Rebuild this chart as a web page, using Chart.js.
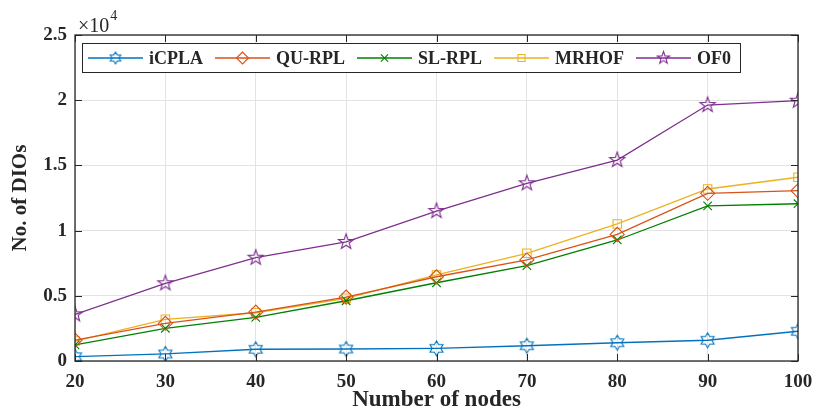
<!DOCTYPE html>
<html>
<head>
<meta charset="utf-8">
<script src="https://cdn.jsdelivr.net/npm/chart.js@4.4.1/dist/chart.umd.min.js"></script>
<style>
  html, body { margin: 0; padding: 0; background: #fff; }
  #wrap { width: 813px; height: 412px; position: relative; }
</style>
</head>
<body>
<div id="wrap"><canvas id="chart" width="813" height="412"></canvas></div>
<script>
const nodes = [20, 30, 40, 50, 60, 70, 80, 90, 100];
const seriesNames = ['iCPLA', 'QU-RPL', 'SL-RPL', 'MRHOF', 'OF0'];
const icpla = [330, 540, 900, 920, 970, 1170, 1400, 1590, 2280];
const quRpl = [1600, 2890, 3750, 4900, 6460, 7750, 9710, 12860, 13060];
const slRpl = [1230, 2510, 3350, 4620, 6000, 7310, 9280, 11890, 12060];
const mrhof = [1530, 3200, 3700, 4810, 6600, 8260, 10510, 13190, 14090];
const of0 = [3580, 5960, 7920, 9130, 11500, 13630, 15410, 19630, 19960];
const yTicks = [0, 5000, 10000, 15000, 20000, 25000];

const FONT = '"Liberation Serif", "Times New Roman", serif';

// star shaped marker drawn on a small canvas
function starMarker(points, inner, color, r) {
  const c = document.createElement('canvas');
  const size = Math.ceil(r * 2 + 4);
  c.width = size;
  c.height = size;
  const ctx = c.getContext('2d');
  const cx = size / 2, cy = size / 2;
  ctx.beginPath();
  for (let i = 0; i < points * 2; i++) {
    const rad = i % 2 === 0 ? r : r * inner;
    const a = -Math.PI / 2 + i * Math.PI / points;
    const x = cx + rad * Math.cos(a);
    const y = cy + rad * Math.sin(a);
    if (i === 0) ctx.moveTo(x, y); else ctx.lineTo(x, y);
  }
  ctx.closePath();
  ctx.strokeStyle = color;
  ctx.lineWidth = 1.1;
  ctx.stroke();
  return c;
}

const colors = ['#0072BD', '#D95319', '#008000', '#EDB120', '#7E2F8E'];

function makeSet(label, data, color, style, radius, legendStyle, legendRadius) {
  return {
    label,
    data: nodes.map((n, i) => ({ x: n, y: data[i] })),
    borderColor: color,
    backgroundColor: 'rgba(0,0,0,0)',
    borderWidth: 1.3,
    pointStyle: style,
    pointRadius: radius,
    pointBorderWidth: 1.1,
    pointBorderColor: color,
    pointBackgroundColor: 'rgba(0,0,0,0)',
    tension: 0,
    legendStyle,
    legendRadius,
  };
}

const datasets = [
  makeSet(seriesNames[0], icpla, colors[0], starMarker(6, 0.577, colors[0], 7.5), 7,
    starMarker(6, 0.577, colors[0], 6), 6),
  makeSet(seriesNames[1], quRpl, colors[1], 'rectRot', 7, 'rectRot', 6),
  makeSet(seriesNames[2], slRpl, colors[2], 'crossRot', 6, 'crossRot', 5),
  makeSet(seriesNames[3], mrhof, colors[3], 'rect', 6, 'rect', 5),
  makeSet(seriesNames[4], of0, colors[4], starMarker(5, 0.4, colors[4], 8), 8,
    starMarker(5, 0.4, colors[4], 6.5), 6),
];

const frame = {
  id: 'frame',
  afterDraw(chart) {
    const { ctx, chartArea: a, scales } = chart;
    ctx.save();
    // box
    ctx.strokeStyle = '#262626';
    ctx.lineWidth = 1.3;
    ctx.strokeRect(a.left, a.top, a.right - a.left, a.bottom - a.top);
    // inward ticks
    ctx.beginPath();
    nodes.forEach(v => {
      const x = Math.round(scales.x.getPixelForValue(v)) + 0.5;
      ctx.moveTo(x, a.bottom); ctx.lineTo(x, a.bottom - 7);
      ctx.moveTo(x, a.top); ctx.lineTo(x, a.top + 7);
    });
    yTicks.forEach(v => {
      const y = Math.round(scales.y.getPixelForValue(v)) + 0.5;
      ctx.moveTo(a.left, y); ctx.lineTo(a.left + 7, y);
      ctx.moveTo(a.right, y); ctx.lineTo(a.right - 7, y);
    });
    ctx.lineWidth = 1;
    ctx.stroke();

    // exponent label
    ctx.fillStyle = '#262626';
    ctx.textBaseline = 'alphabetic';
    ctx.textAlign = 'left';
    ctx.font = '20px ' + FONT;
    ctx.fillText('\u00d710', a.left + 3, a.top - 3);
    const w = ctx.measureText('\u00d710').width;
    ctx.font = '14px ' + FONT;
    ctx.fillText('4', a.left + 4 + w, a.top - 15);

    // legend
    const lx = a.left + 7, ly = a.top + 8, lh = 29;
    ctx.font = 'bold 18px ' + FONT;
    const lineLen = 55;
    let x = lx + 6;
    const items = [];
    chart.data.datasets.forEach(ds => {
      const tw = ctx.measureText(ds.label).width;
      items.push({ ds, x });
      x += lineLen + 6 + tw + 12;
    });
    const lw = x - 12 + 9 - lx;
    ctx.fillStyle = '#fff';
    ctx.fillRect(lx, ly, lw, lh);
    ctx.strokeStyle = '#262626';
    ctx.lineWidth = 1;
    ctx.strokeRect(lx + 0.5, ly + 0.5, lw, lh);
    const cy = ly + lh / 2 + 0.5;
    items.forEach(({ ds, x: ix }) => {
      ctx.beginPath();
      ctx.moveTo(ix, cy);
      ctx.lineTo(ix + lineLen, cy);
      ctx.strokeStyle = ds.borderColor;
      ctx.lineWidth = 1.3;
      ctx.stroke();
      ctx.fillStyle = 'rgba(0,0,0,0)';
      ctx.lineWidth = 1.1;
      Chart.helpers.drawPoint(ctx, {
        pointStyle: ds.legendStyle,
        radius: ds.legendRadius,
        borderWidth: 1.1,
        rotation: 0,
      }, ix + lineLen / 2, cy);
      ctx.fillStyle = '#262626';
      ctx.textBaseline = 'middle';
      ctx.fillText(ds.label, ix + lineLen + 6, cy + 1);
    });
    ctx.restore();
  },
};

new Chart(document.getElementById('chart'), {
  type: 'line',
  data: { datasets },
  options: {
    responsive: false,
    animation: false,
    layout: { padding: { top: 35, right: 15, left: 0, bottom: 0 } },
    plugins: { legend: { display: false }, tooltip: { enabled: false } },
    scales: {
      x: {
        type: 'linear',
        min: 20,
        max: 100,
        afterBuildTicks: s => { s.ticks = nodes.map(v => ({ value: v })); },
        afterFit: s => { s.height = 51; s.paddingLeft = 0; s.paddingRight = 0; },
        grid: { color: '#e3e3e3', lineWidth: 1, drawTicks: false },
        border: { display: false },
        ticks: {
          color: '#262626',
          padding: 10,
          font: { family: FONT, size: 19, weight: 'bold' },
          maxRotation: 0,
        },
        title: {
          display: true,
          text: 'Number of nodes',
          color: '#262626',
          padding: { top: 0, bottom: -2 },
          font: { family: FONT, size: 23, weight: 'bold' },
        },
      },
      y: {
        min: 0,
        max: 25000,
        afterBuildTicks: s => { s.ticks = yTicks.map(v => ({ value: v })); },
        afterFit: s => { s.width = 75; s.paddingTop = 0; s.paddingBottom = 0; },
        grid: { color: '#e3e3e3', lineWidth: 1, drawTicks: false },
        border: { display: false },
        ticks: {
          color: '#262626',
          padding: 8,
          font: { family: FONT, size: 19, weight: 'bold' },
          callback: v => String(v / 10000),
        },
        title: {
          display: true,
          text: 'No. of DIOs',
          color: '#262626',
          padding: { top: 8, bottom: 10 },
          font: { family: FONT, size: 21, weight: 'bold' },
        },
      },
    },
  },
  plugins: [frame],
});
</script>
</body>
</html>
